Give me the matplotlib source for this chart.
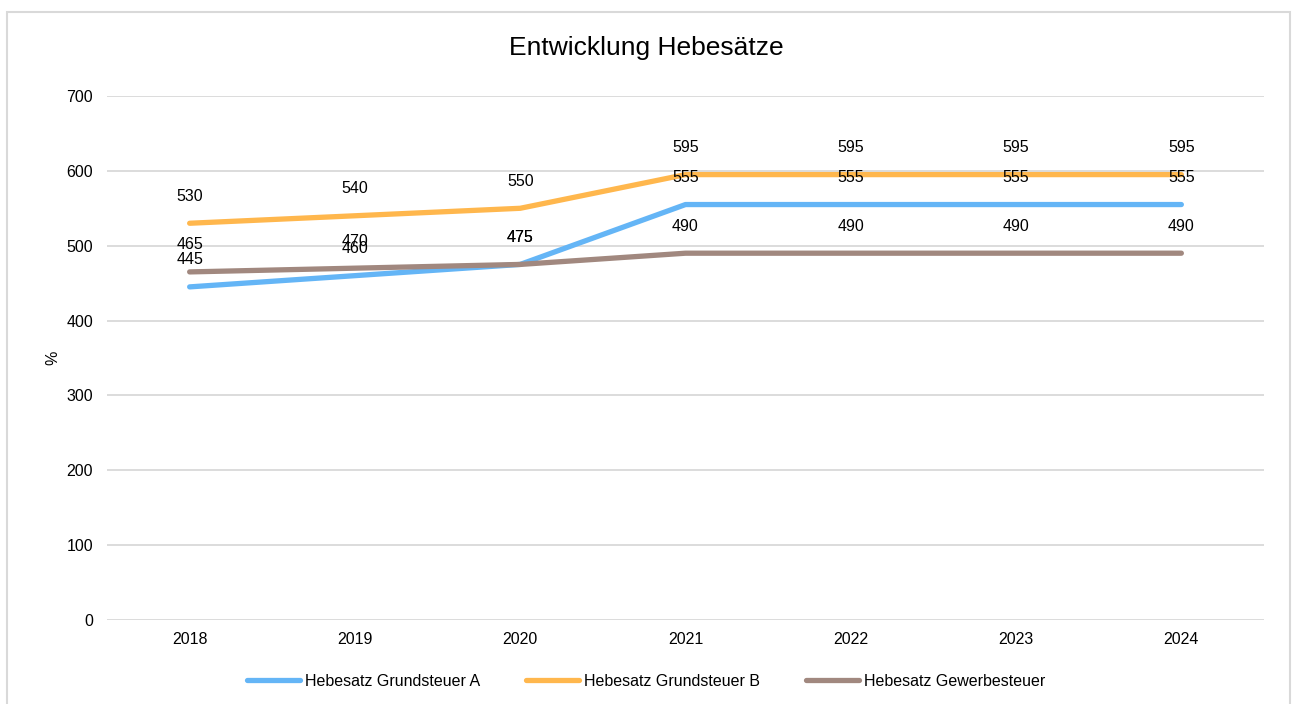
import numpy as np
import matplotlib.pyplot as plt
from matplotlib.patches import Rectangle

plt.rcParams['font.family'] = ['Liberation Sans', 'DejaVu Sans']

# ---- data ----
years = ["2018", "2019", "2020", "2021", "2022", "2023", "2024"]
grundsteuer_a = [445, 460, 475, 555, 555, 555, 555]
grundsteuer_b = [530, 540, 550, 595, 595, 595, 595]
gewerbesteuer = [465, 470, 475, 490, 490, 490, 490]

series = [
    ("Hebesatz Grundsteuer A", grundsteuer_a, "#64B5F6"),
    ("Hebesatz Grundsteuer B", grundsteuer_b, "#FFB74D"),
    ("Hebesatz Gewerbesteuer", gewerbesteuer, "#A1887F"),
]

fig = plt.figure(figsize=(12.92, 7.04), dpi=100)
# outer chart frame
fig.patches.append(Rectangle((7 / 1292, -0.05), (1290 - 7) / 1292, 1.05 - 12 / 704,
                             transform=fig.transFigure, fill=False,
                             edgecolor="#D9D9D9", linewidth=1.5))

ax = fig.add_axes([107 / 1292, 1 - 620 / 704, (1264 - 107) / 1292, (620 - 96) / 704])
x = np.arange(len(years))

for name, vals, col in series:
    ax.plot(x, vals, color=col, linewidth=3.8, solid_capstyle="round", label=name, zorder=3)
    for xi, v in zip(x, vals):
        ax.annotate(str(v), (xi, v), xytext=(0, 19.5), textcoords="offset points",
                    ha="center", va="center", fontsize=11.5, color="#000000", zorder=4)

ax.set_xlim(-0.5, len(years) - 0.5)
ax.set_ylim(0, 700)
ax.set_yticks(np.arange(0, 701, 100))
ax.set_xticks(x)
ax.set_xticklabels(years)
ax.grid(axis="y", color="#D9D9D9", linewidth=1.3, zorder=0)
ax.set_axisbelow(True)
for s in ax.spines.values():
    s.set_visible(False)
ax.tick_params(length=0, labelsize=11.5, colors="#000000")
ax.tick_params(axis="y", pad=10)
ax.tick_params(axis="x", pad=9)
ax.set_ylabel("%", fontsize=11.5, labelpad=4)

fig.text(0.5, 1 - 48 / 704, "Entwicklung Hebesätze", ha="center", va="center", fontsize=19)

fig.legend(loc="center", bbox_to_anchor=(0.5, 1 - 681 / 704), ncol=3, frameon=False,
           fontsize=11.5, handlelength=3.3, handletextpad=0.3, columnspacing=2.9)

fig.savefig("out.png", dpi=100)
